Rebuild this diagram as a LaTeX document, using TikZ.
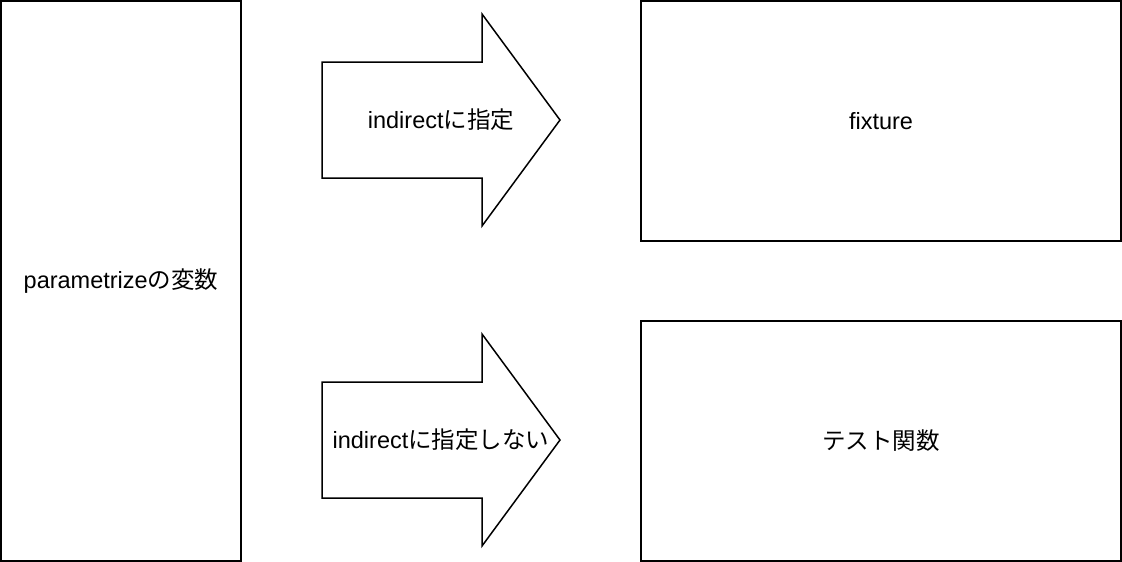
\documentclass[tikz,border=0pt]{standalone}
\usepackage{fontspec}
\setmainfont{Liberation Sans}
\newfontfamily\jp{Noto Sans CJK JP}

\tikzset{
  box/.style={draw, line width=1.5pt, inner sep=0pt},
  bigarrow/.style={draw, line width=1.5pt, line join=miter},
  label/.style={font=\fontsize{23.5}{28}\selectfont, inner sep=0pt}
}

\begin{document}
\begin{tikzpicture}[x=1pt,y=-1pt]
\useasboundingbox (0,0) rectangle (1122,562);

% boxes
\node [box, minimum width=240pt, minimum height=560pt, label] (params) at (121,281) {parametrize{\jp の変数}};
\node [box, minimum width=480pt, minimum height=240pt, label] (fixture) at (881,121) {fixture};
\node [box, minimum width=480pt, minimum height=240pt, label] (testfunc) at (881,441) {\jp テスト関数};

% arrows
\draw [bigarrow] (322,62) -- (482,62) -- (482,14) -- (560,120) -- (482,226) -- (482,178) -- (322,178) -- cycle;
\node [label] (indirect) at (441,120) {indirect{\jp に指定}};

\draw [bigarrow] (322,382) -- (482,382) -- (482,334) -- (560,440) -- (482,546) -- (482,498) -- (322,498) -- cycle;
\node [label] (direct) at (441,440) {indirect{\jp に指定しない}};
\end{tikzpicture}
\end{document}
